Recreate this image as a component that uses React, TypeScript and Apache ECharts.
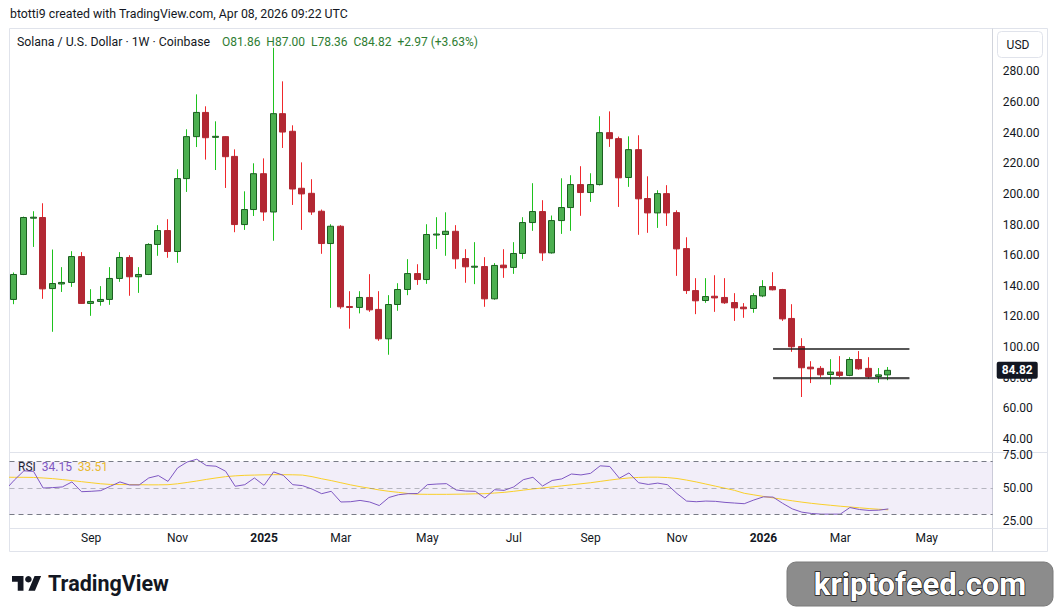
import React, { useEffect, useRef } from "react";
import * as echarts from "echarts";

// Weekly SOL/USD candles, Jul 8 2024 .. Apr 6 2026 (index = week number)
const open = [
  131.1, 147.4, 184.2, 184.6, 138.2, 141.2, 142.2, 159.1, 128.5, 129.8,
  131.1, 144.8, 158.5, 145.9, 147.4, 167.0, 176.1, 162.4, 210.0, 237.4,
  253.2, 237.0, 237.4, 224.5, 180.0, 189.8, 213.2, 188.2, 252.4, 240.9,
  203.7, 200.4, 188.7, 167.6, 178.9, 126.5, 125.9, 132.4, 124.6, 105.4,
  127.8, 137.6, 148.0, 144.1, 173.3, 173.5, 175.6, 157.8, 152.4, 152.6,
  131.5, 153.5, 152.0, 161.1, 181.3, 188.5, 161.5, 182.6, 191.1, 206.1,
  200.9, 206.1, 240.0, 236.1, 210.7, 228.9, 197.0, 187.6, 200.2, 187.8,
  164.3, 136.9, 130.4, 133.2, 132.4, 129.1, 126.1, 125.2, 133.4, 139.5,
  137.6, 118.7, 100.4, 86.9, 86.1, 82.1, 83.7, 81.5, 91.9, 86.1,
  80.8, 81.86,
];
const high = [
  148.7, 185.2, 188.7, 193.9, 163.7, 152.2, 162.6, 162.0, 137.8, 139.8,
  152.2, 162.0, 160.0, 152.2, 167.8, 179.6, 183.5, 216.1, 242.2, 265.0,
  257.2, 247.4, 237.6, 229.1, 201.7, 220.0, 223.2, 295.4, 273.5, 244.8,
  220.6, 209.6, 189.8, 180.2, 179.6, 136.5, 136.5, 147.6, 136.5, 133.9,
  141.7, 157.4, 154.1, 180.2, 184.8, 188.0, 179.6, 163.9, 168.5, 158.7,
  154.8, 163.9, 168.5, 184.8, 207.0, 195.9, 185.9, 210.2, 212.2, 218.1,
  213.5, 250.7, 253.9, 237.4, 237.6, 238.3, 211.5, 202.4, 205.7, 189.3,
  171.7, 145.0, 145.0, 146.9, 145.0, 135.2, 128.7, 135.2, 143.7, 148.9,
  138.0, 128.0, 105.8, 90.8, 87.6, 92.1, 94.1, 93.4, 97.4, 93.4,
  86.3, 87.0,
];
const low = [
  128.0, 147.0, 165.4, 131.5, 110.0, 136.0, 139.3, 128.3, 120.4, 127.0,
  127.6, 142.6, 133.5, 135.4, 147.0, 159.6, 158.3, 155.0, 201.3, 230.6,
  222.4, 215.6, 203.9, 175.0, 176.5, 185.6, 182.4, 169.4, 230.0, 192.8,
  176.5, 186.3, 160.9, 125.6, 125.0, 112.0, 122.0, 123.0, 104.1, 95.0,
  123.7, 133.9, 140.6, 141.3, 164.0, 159.6, 151.1, 142.0, 141.1, 126.3,
  130.9, 145.2, 147.8, 157.6, 175.9, 156.3, 161.0, 173.9, 175.9, 185.7,
  194.8, 205.5, 230.7, 191.5, 204.6, 173.3, 174.6, 177.8, 179.1, 146.5,
  134.7, 121.5, 128.9, 123.0, 128.2, 117.1, 119.1, 122.4, 132.6, 137.0,
  117.1, 96.9, 67.4, 76.5, 80.2, 75.4, 80.4, 81.0, 85.2, 79.3,
  76.7, 78.36,
];
const close = [
  147.4, 184.6, 184.8, 138.0, 141.5, 142.2, 159.1, 128.5, 129.8, 131.1,
  144.8, 158.5, 145.9, 147.4, 167.0, 176.1, 162.4, 210.0, 237.4, 253.2,
  236.7, 237.6, 224.3, 180.0, 189.8, 213.2, 188.2, 252.4, 240.4, 203.2,
  200.0, 188.2, 167.6, 178.9, 126.3, 126.0, 132.4, 124.3, 105.4, 127.8,
  137.6, 148.0, 144.1, 173.5, 173.8, 175.6, 157.6, 152.4, 152.8, 131.5,
  153.3, 151.8, 161.1, 181.3, 188.5, 161.5, 182.6, 191.1, 206.1, 200.9,
  206.1, 240.0, 236.1, 210.5, 228.9, 196.8, 187.6, 200.2, 187.6, 164.1,
  136.9, 130.2, 133.0, 132.1, 128.9, 125.6, 125.0, 133.6, 139.5, 137.4,
  118.4, 100.2, 86.5, 85.8, 81.9, 83.7, 81.5, 91.9, 85.8, 80.8,
  81.86, 84.82,
];
// RSI(14) and its moving average, read per week; the "prev" values belong to
// the week just before the first visible candle (clipped at the left edge).
const rsiPrev = 48.0;
const rsi = [
  56.0, 63.0, 62.6, 50.0, 50.3, 50.8, 54.6, 47.2, 47.5, 48.0,
  51.3, 54.6, 52.3, 52.3, 57.6, 59.4, 55.0, 65.2, 69.7, 71.8,
  67.0, 66.5, 62.7, 51.3, 52.5, 57.6, 52.0, 62.2, 59.6, 52.5,
  51.8, 49.2, 45.7, 47.5, 39.4, 39.6, 40.6, 39.4, 36.7, 42.8,
  44.9, 45.7, 45.8, 52.5, 53.0, 53.3, 48.5, 47.7, 47.5, 42.4,
  48.7, 48.2, 50.8, 56.3, 58.1, 51.5, 55.7, 56.9, 60.6, 59.9,
  61.1, 66.8, 66.3, 57.4, 61.4, 54.0, 52.7, 53.7, 52.5, 45.8,
  40.1, 39.6, 40.1, 39.9, 39.1, 38.6, 38.1, 40.9, 43.3, 43.1,
  38.4, 34.2, 31.7, 30.7, 30.2, 30.2, 30.2, 35.2, 33.7, 33.0,
  33.2, 34.15,
];
const rsiMaPrev = 58.2;
const rsiMa = [
  58.1, 58.1, 58.0, 57.6, 57.1, 56.4, 55.6, 54.8, 54.0, 53.2,
  52.7, 52.6, 52.6, 52.5, 52.4, 52.4, 52.5, 53.2, 54.2, 55.3,
  56.5, 57.6, 58.6, 59.2, 59.6, 59.8, 60.0, 60.1, 60.1, 60.0,
  59.8, 58.6, 57.0, 55.6, 54.0, 52.4, 51.0, 49.8, 48.5, 47.5,
  46.7, 45.8, 45.3, 45.2, 45.2, 45.2, 45.3, 45.4, 45.6, 45.7,
  46.2, 46.7, 47.5, 48.4, 49.3, 50.0, 50.8, 51.6, 52.4, 53.2,
  54.0, 55.0, 56.0, 56.9, 57.6, 58.0, 58.2, 58.2, 57.9, 57.2,
  56.0, 54.6, 53.0, 51.4, 49.8, 48.2, 46.0, 44.8, 43.6, 42.5,
  41.4, 40.3, 39.3, 38.4, 37.6, 36.9, 36.2, 35.6, 35.0, 34.4,
  33.9, 33.51,
];
const timeTickIndex = [8, 17, 26, 34, 43, 52, 60, 69, 78, 86, 95];
const timeTickText = ["Sep", "Nov", "2025", "Mar", "May", "Jul", "Sep", "Nov", "2026", "Mar", "May"];
const priceTicks = [40, 60, 80, 100, 120, 140, 160, 180, 200, 220, 240, 260, 280];
const rsiTicks = [25, 50, 75];
const rangeTop = 99.1;
const rangeBottom = 80.2;
const rangeFrom = 79;
const rangeTo = 93.2;
const lastPrice = 84.82;

const FONT = "Roboto, 'Noto Sans', sans-serif";
const TXT = "#131722";
const UP_FILL = "#4caf50";
const UP_BORDER = "#1b5e20";
const UP_WICK = "#1ec21e";
const DN_FILL = "#b22833";
const DN_BORDER = "#b22833";
const DN_WICK = "#f0282c";
const LINE = "#e0e3eb";

echarts.graphic.registerShape(
  "tvlogo",
  echarts.graphic.extendPath("M14 22H7V11H0V4h14v18zM28 22h-8l7.5-18h8L28 22z", {})
);

function buildOption(): any {
  const candles = open.map((o, i) => [i, o, close[i], low[i], high[i]]);
  const rsiData = [[-1, rsiPrev]].concat(rsi.map((v, i) => [i, v]));
  const maData = [[-1, rsiMaPrev]].concat(rsiMa.map((v, i) => [i, v]));
  const gridLeft = 9.5;
  const gridRight = 1057 - 992.7;
  const xMin = -0.5;
  const xMax = 101.87;
  return {
    animation: false,
    backgroundColor: "#ffffff",
    textStyle: { fontFamily: FONT },
    grid: [
      { left: gridLeft, right: gridRight, top: 28.5, height: 423.5, outerBoundsMode: "none" },
      { left: gridLeft, right: gridRight, top: 452, height: 76, outerBoundsMode: "none" },
    ],
    xAxis: [
      { type: "value", gridIndex: 0, min: xMin, max: xMax, show: false },
      {
        type: "value",
        gridIndex: 1,
        min: xMin,
        max: xMax,
        axisLine: { show: false },
        axisTick: { show: false },
        splitLine: { show: false },
        axisLabel: {
          customValues: timeTickIndex,
          margin: 4,
          fontSize: 12,
          color: TXT,
          fontFamily: FONT,
          formatter: (v: number) => {
            const k = timeTickIndex.indexOf(Math.round(v));
            if (k < 0) return "";
            const t = timeTickText[k];
            return /^\d+$/.test(t) ? "{b|" + t + "}" : t;
          },
          rich: { b: { fontWeight: "bold", fontSize: 12, color: TXT, fontFamily: FONT } },
        },
      },
    ],
    yAxis: [
      {
        type: "value",
        gridIndex: 0,
        position: "right",
        min: 31.5,
        max: 308,
        axisLine: { show: false },
        axisTick: { show: false },
        splitLine: { show: false },
        axisLabel: {
          customValues: priceTicks,
          margin: 10,
          fontSize: 12,
          color: TXT,
          fontFamily: FONT,
          formatter: (v: number) => v.toFixed(2),
        },
      },
      {
        type: "value",
        gridIndex: 1,
        position: "right",
        min: 19.7,
        max: 77.27,
        axisLine: { show: false },
        axisTick: { show: false },
        splitLine: { show: false },
        axisLabel: {
          customValues: rsiTicks,
          margin: 10,
          fontSize: 12,
          color: TXT,
          fontFamily: FONT,
          formatter: (v: number) => v.toFixed(2),
        },
      },
    ],
    series: [
      {
        type: "custom",
        name: "SOL",
        xAxisIndex: 0,
        yAxisIndex: 0,
        data: candles,
        encode: { x: 0, y: [1, 2, 3, 4] },
        renderItem: (params: any, api: any) => {
          const i = api.value(0);
          const o = api.value(1);
          const c = api.value(2);
          const l = api.value(3);
          const h = api.value(4);
          const pO = api.coord([i, o]);
          const pC = api.coord([i, c]);
          const pH = api.coord([i, h]);
          const pL = api.coord([i, l]);
          const up = c >= o;
          const x = Math.round(pO[0]) - 0.5;
          const top = Math.min(pO[1], pC[1]);
          let hgt = Math.abs(pO[1] - pC[1]);
          if (hgt < 1) hgt = 1;
          return {
            type: "group",
            children: [
              {
                type: "line",
                shape: { x1: x, y1: pH[1], x2: x, y2: pL[1] },
                style: { stroke: up ? UP_WICK : DN_WICK, lineWidth: 1 },
              },
              {
                type: "rect",
                shape: { x: x - 3, y: top, width: 6, height: hgt },
                style: { fill: up ? UP_FILL : DN_FILL, stroke: up ? UP_BORDER : DN_BORDER, lineWidth: 1 },
              },
            ],
          };
        },
        markLine: {
          silent: true,
          symbol: "none",
          animation: false,
          data: [
            [
              { coord: [rangeFrom, rangeBottom - 0.7], lineStyle: { color: "rgba(0,0,0,0.18)", width: 2, type: "solid" } },
              { coord: [rangeTo, rangeBottom - 0.7] },
            ],
            [
              { coord: [rangeFrom, rangeTop], lineStyle: { color: "#1f1f1f", width: 1.5, type: "solid" } },
              { coord: [rangeTo, rangeTop] },
            ],
            [
              { coord: [rangeFrom, rangeBottom], lineStyle: { color: "#1f1f1f", width: 1.5, type: "solid" } },
              { coord: [rangeTo, rangeBottom] },
            ],
            {
              yAxis: lastPrice,
              lineStyle: { color: "rgba(0,0,0,0)", width: 0 },
              label: {
                show: true,
                position: "end",
                distance: 4,
                formatter: lastPrice.toFixed(2),
                backgroundColor: "#131722",
                color: "#ffffff",
                fontWeight: "bold",
                fontSize: 12,
                fontFamily: FONT,
                padding: [3, 5, 2, 5],
                borderRadius: 2,
              },
            },
          ],
          label: { show: false },
        },
      },
      {
        type: "line",
        name: "RSI",
        xAxisIndex: 1,
        yAxisIndex: 1,
        data: rsiData,
        showSymbol: false,
        symbol: "none",
        clip: true,
        lineStyle: { color: "#7e57c2", width: 1 },
        z: 3,
        markArea: {
          silent: true,
          itemStyle: { color: "rgba(126,87,194,0.1)" },
          data: [[{ yAxis: 30 }, { yAxis: 70 }]],
        },
        markLine: {
          silent: true,
          symbol: "none",
          label: { show: false },
          data: [
            { yAxis: 70, lineStyle: { color: "#787b86", width: 1, type: [5, 4] } },
            { yAxis: 50, lineStyle: { color: "rgba(120,123,134,0.5)", width: 1, type: [5, 4] } },
            { yAxis: 30, lineStyle: { color: "#787b86", width: 1, type: [5, 4] } },
          ],
        },
      },
      {
        type: "line",
        name: "RSI MA",
        xAxisIndex: 1,
        yAxisIndex: 1,
        data: maData,
        showSymbol: false,
        symbol: "none",
        clip: true,
        lineStyle: { color: "#f9cf2a", width: 1 },
        z: 2,
      },
    ],
    graphic: [
      {
        type: "text",
        x: 10,
        y: 14,
        style: { text: "btotti9 created with TradingView.com, Apr 08, 2026 09:22 UTC", fill: TXT, fontSize: 12.3, fontFamily: FONT, verticalAlign: "middle" },
      },
      { type: "rect", shape: { x: 9.5, y: 28.5, width: 1038, height: 523 }, style: { fill: "none", stroke: LINE, lineWidth: 1 } },
      { type: "line", shape: { x1: 992.5, y1: 28.5, x2: 992.5, y2: 551.5 }, style: { stroke: "#d1d4dc", lineWidth: 1 } },
      { type: "line", shape: { x1: 9.5, y1: 452.5, x2: 1047.5, y2: 452.5 }, style: { stroke: LINE, lineWidth: 1 } },
      { type: "line", shape: { x1: 9.5, y1: 528.5, x2: 1047.5, y2: 528.5 }, style: { stroke: LINE, lineWidth: 1 } },
      {
        type: "text",
        x: 17,
        y: 42,
        style: { text: "Solana / U.S. Dollar · 1W · Coinbase", fill: TXT, fontSize: 12.3, fontFamily: FONT, verticalAlign: "middle" },
      },
      {
        type: "text",
        x: 222,
        y: 42,
        style: { text: "O81.86  H87.00  L78.36  C84.82  +2.97 (+3.63%)", fill: "#2e7d32", fontSize: 12, fontFamily: FONT, verticalAlign: "middle" },
      },
      { type: "rect", shape: { x: 997.5, y: 31.5, width: 45, height: 26, r: 4 }, style: { fill: "#fff", stroke: LINE, lineWidth: 1 } },
      {
        type: "text",
        x: 1018,
        y: 45,
        style: { text: "USD", fill: TXT, fontSize: 12, fontFamily: FONT, align: "center", verticalAlign: "middle" },
      },
      {
        type: "text",
        x: 18,
        y: 467,
        style: {
          text: "{a|RSI}  {b|34.15}  {c|33.51}",
          fontSize: 12,
          fontFamily: FONT,
          verticalAlign: "middle",
          rich: {
            a: { fill: TXT, fontSize: 12, fontFamily: FONT },
            b: { fill: "#7e57c2", fontSize: 12, fontFamily: FONT },
            c: { fill: "#f5c518", fontSize: 12, fontFamily: FONT },
          },
        },
      },
      { type: "tvlogo", x: 12, y: 572.7, scaleX: 0.82, scaleY: 0.82, style: { fill: TXT } },
      { type: "circle", shape: { cx: 12 + 20 * 0.82, cy: 572.7 + 8 * 0.82, r: 4 * 0.82 }, style: { fill: TXT } },
      {
        type: "text",
        x: 48,
        y: 583,
        style: { text: "TradingView", fill: TXT, fontSize: 21.5, fontWeight: "bold", fontFamily: FONT, verticalAlign: "middle" },
      },
      {
        type: "rect",
        shape: { x: 787, y: 562, width: 266, height: 44, r: 9 },
        style: { fill: "#8c8c8c", stroke: "#7a7a7a", lineWidth: 1 },
      },
      {
        type: "text",
        x: 920,
        y: 584,
        style: {
          text: "kriptofeed.com",
          fill: "#ffffff",
          fontSize: 31,
          fontWeight: "bold",
          fontFamily: FONT,
          align: "center",
          verticalAlign: "middle",
          stroke: "#1a1a1a",
          lineWidth: 1.5,
          textShadowColor: "#000000",
          textShadowOffsetX: 2,
          textShadowOffsetY: 2,
          textShadowBlur: 0,
        },
      },
    ],
  };
}

export default function App() {
  const ref = useRef<HTMLDivElement>(null);
  useEffect(() => {
    if (!ref.current) return;
    const chart = echarts.init(ref.current, null, { renderer: "svg" });
    chart.setOption(buildOption());
    return () => {
      chart.dispose();
    };
  }, []);
  return (
    <div
      ref={ref}
      style={{ position: "fixed", left: 0, top: 0, width: 1057, height: 613, background: "#ffffff" }}
    />
  );
}
